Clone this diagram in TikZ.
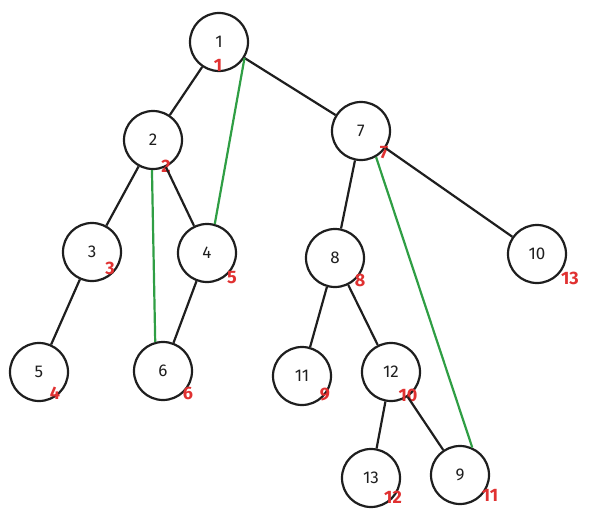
\documentclass[tikz,border=0pt]{standalone}
\usepackage{fontspec}
\setmainfont{Fira Sans}
\definecolor{ink}{HTML}{1E1E1E}
\definecolor{lblred}{HTML}{E03131}
\definecolor{grn}{HTML}{2F9E44}
\begin{document}
\begin{tikzpicture}[x=1pt,y=-1pt,
  vtx/.style={circle,draw=ink,line width=2.2pt,minimum size=58pt,inner sep=0pt,
    font=\fontsize{17}{20}\selectfont,text=ink},
  lbl/.style={text=lblred,font=\fontsize{18}{20}\selectfont\bfseries,inner sep=0pt},
  edge/.style={draw=ink,line width=2.2pt},
  gedge/.style={draw=grn,line width=2.2pt}]
\useasboundingbox (0,0) rectangle (590,522);
\node[vtx] (n1) at (219,42) {1};
\node[vtx] (n2) at (153,140) {2};
\node[vtx] (n7) at (361,131) {7};
\node[vtx] (n3) at (92,252) {3};
\node[vtx] (n4) at (207,253) {4};
\node[vtx] (n5) at (39,372) {5};
\node[vtx] (n6) at (163,371) {6};
\node[vtx] (n8) at (335,258) {8};
\node[vtx] (n10) at (537,254) {10};
\node[vtx] (n11) at (302,376) {11};
\node[vtx] (n12) at (391,372) {12};
\node[vtx] (n13) at (371,478) {13};
\node[vtx] (n9) at (460,475) {9};
% order labels
\node[lbl] (l1) at (218,65) {1};
\node[lbl] (l2) at (166,166) {2};
\node[lbl] (l7) at (384,153) {7};
\node[lbl] (l3) at (110,268) {3};
\node[lbl] (l4) at (232,278) {5};
\node[lbl] (l5) at (55,393) {4};
\node[lbl] (l6) at (188,393) {6};
\node[lbl] (l8) at (360,280) {8};
\node[lbl] (l10) at (570,278) {13};
\node[lbl] (l11) at (325,395) {9};
\node[lbl] (l12) at (408,395) {10};
\node[lbl] (l13) at (393,497) {12};
\node[lbl] (l9) at (490,495) {11};
% tree edges
\draw[edge] (n1) -- (n2);
\draw[edge] (n1) -- (n7);
\draw[edge] (n2) -- (n3);
\draw[edge] (n2) -- (n4);
\draw[edge] (n3) -- (n5);
\draw[edge] (n4) -- (n6);
\draw[edge] (n7) -- (n8);
\draw[edge] (n7) -- (n10);
\draw[edge] (n8) -- (n11);
\draw[edge] (n8) -- (n12);
\draw[edge] (n12) -- (n13);
\draw[edge] (n12) -- (n9);
% green edges
\draw[gedge] (n1.-32) -- (n4.75);
\draw[gedge] (n2.-92) -- (n6.105);
\draw[gedge] (n7.-60) -- (n9.66);
\end{tikzpicture}
\end{document}
